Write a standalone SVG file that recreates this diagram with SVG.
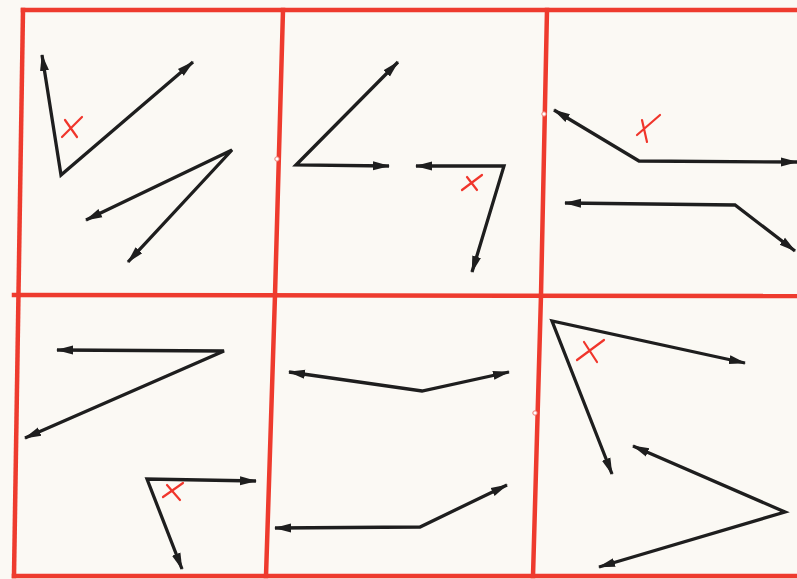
<svg xmlns="http://www.w3.org/2000/svg" width="797" height="579" viewBox="0 0 797 579">
<defs>
<style>
.grid{stroke:#ee3b2e;stroke-width:4.5;fill:none;stroke-linecap:square}
.ang{stroke:#1e1e1e;stroke-width:3.3;fill:none;stroke-linejoin:miter;marker-start:url(#ah);marker-end:url(#ah)}
.x{stroke:#f0352b;stroke-width:2.2;fill:none;stroke-linecap:round}
.hole{fill:#ffffff;stroke:#f07a70;stroke-width:1}
</style>
<marker id="ah" markerUnits="userSpaceOnUse" markerWidth="18" markerHeight="12" refX="16" refY="6" orient="auto-start-reverse">
<path d="M0,1.5 L17,6 L0,10.5 Z" fill="#1e1e1e"/>
</marker>
</defs>
<rect width="797" height="579" fill="#fbf9f4"/>
<g id="grid">
<path class="grid" d="M23,10 L797,10"/>
<path class="grid" d="M14,295 L797,296"/>
<path class="grid" d="M14,576 L797,576"/>
<path class="grid" d="M23,10 L14,576"/>
<path class="grid" d="M283,10 L275,295 L266,576"/>
<path class="grid" d="M547,10 L541,295 L533,576"/>
<circle class="hole" cx="277" cy="159" r="2.2"/>
<circle class="hole" cx="544" cy="114" r="2.2"/>
<circle class="hole" cx="535" cy="413" r="2.2"/>
</g>
<g id="angles">
<polyline class="ang" points="42,55 61,175 193,62"/>
<polyline class="ang" points="86,220 232,150 128,262"/>
<polyline class="ang" points="398,62 296,165 389,166"/>
<polyline class="ang" points="416,166 504,166 472,272"/>
<polyline class="ang" points="554,110 639,161 797,162"/>
<polyline class="ang" points="565,203 735,205 795,251"/>
<polyline class="ang" points="57,350 224,351 25,438"/>
<polyline class="ang" points="256,481 147,479 182,569"/>
<polyline class="ang" points="289,372 422,391 509,372"/>
<polyline class="ang" points="275,528 420,527 507,485"/>
<polyline class="ang" points="745,363 552,321 612,474"/>
<polyline class="ang" points="633,446 785,512 599,567"/>
</g>
<g id="marks">
<path class="x" d="M62,137 L82,117 M65,120 L77,137"/>
<path class="x" d="M462,190 L482,175 M467,177 L477,190"/>
<path class="x" d="M637,135 L660,115 M642,120 L647,142"/>
<path class="x" d="M163,497 L183,483 M167,485 L180,500"/>
<path class="x" d="M577,360 L604,340 M584,342 L597,362"/>
</g>
</svg>
